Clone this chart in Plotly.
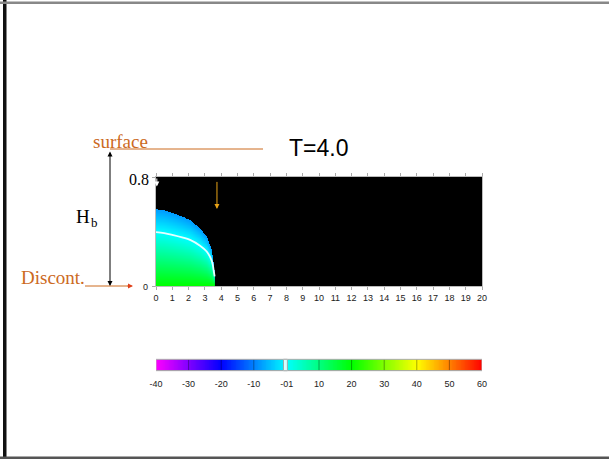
import numpy as np
import plotly.graph_objects as go

W, H = 609, 459

# Bubble outline: height of the top boundary (y) along x
profile_x = [0.0, 0.5, 1.06, 1.6, 2.09, 2.7, 3.11, 3.42, 3.56, 3.6]
profile_h = [0.565, 0.555, 0.534, 0.51, 0.484, 0.423, 0.362, 0.264, 0.14, 0.10]

# Temperature through the bubble, by fraction of local height
level_frac = [0.0, 0.7, 1.0]
level_temp = [20.0, 0.0, -8.0]

# Axis tick labels
x_ticks = list(range(0, 21))
cbar_ticks = [-40, -30, -20, -10, 10, 20, 30, 40, 50, 60]
cbar_zero_vals = [0.1]
cbar_zero_text = ["-01"]
cbar_min, cbar_max = -40, 60

# Arrow markers on the panel
yellow_arrow = dict(x=3.74, top=0.775, tip=0.565)
white_arrow = dict(x=0.05, top=0.8, tip=0.73)

colorscale = [
    [0.0, "#ff00ff"], [0.1, "#8000ff"], [0.2, "#0000ff"], [0.3, "#0080ff"],
    [0.4, "#00ffff"], [0.5, "#00ff80"], [0.6, "#00ff00"], [0.7, "#80ff00"],
    [0.8, "#ffff00"], [0.9, "#ff8000"], [1.0, "#ff0000"],
]

# Field inside the bubble
xs = np.arange(0.0, profile_x[-1] + 1e-9, 0.01)
ys = np.arange(0.0, 0.8, 0.002)
X, Y = np.meshgrid(xs, ys)
h = np.interp(xs, profile_x, profile_h)[None, :]
frac = Y / h
T = np.interp(frac, level_frac, level_temp)
T = np.where(Y <= h, T, np.nan)

zero_frac = float(np.interp(0.0, level_temp[::-1], level_frac[::-1]))
contour_x = np.array(profile_x)
contour_y = zero_frac * np.array(profile_h)


def px(x):
    return x / W


def py(y):
    return 1 - y / H


fig = go.Figure()
fig.add_trace(go.Heatmap(
    x=xs, y=ys, z=T, colorscale=colorscale, zmin=cbar_min, zmax=cbar_max,
    showscale=False, hoverinfo="skip", xaxis="x", yaxis="y",
))
fig.add_trace(go.Scatter(
    x=contour_x, y=contour_y, mode="lines",
    line=dict(color="rgba(255,255,255,0.9)", width=1.8, shape="spline"),
    hoverinfo="skip", xaxis="x", yaxis="y",
))

# Colour bar as its own strip
cb_x = np.linspace(cbar_min, cbar_max, 401)
fig.add_trace(go.Heatmap(
    x=cb_x, y=[0], z=[cb_x], colorscale=colorscale, zmin=cbar_min, zmax=cbar_max,
    showscale=False, hoverinfo="skip", xaxis="x2", yaxis="y2",
))

plot_dom_x = [px(156), px(482)]

fig.update_layout(
    width=W, height=H,
    margin=dict(l=0, r=0, t=0, b=0, pad=0, autoexpand=False),
    paper_bgcolor="white", plot_bgcolor="black", showlegend=False,
    xaxis=dict(
        domain=plot_dom_x, range=[0, 20], tickvals=x_ticks, automargin=False,
        ticks="outside", ticklen=3, tickcolor="#aaaaaa", showline=True,
        linecolor="#bbbbbb", mirror="ticks", showgrid=False, zeroline=False,
        tickangle=0,
        tickfont=dict(family="Liberation Sans", size=9, color="#222222"),
        anchor="y",
    ),
    yaxis=dict(
        domain=[py(286), py(177)], range=[0, 0.8], tickvals=[0, 0.8],
        ticks="outside", ticklen=3, tickcolor="#aaaaaa", showticklabels=False,
        showline=True, linecolor="#bbbbbb", mirror=True, showgrid=False,
        zeroline=False, anchor="x", automargin=False,
    ),
    xaxis2=dict(
        domain=plot_dom_x, range=[cbar_min, cbar_max], automargin=False,
        tickvals=cbar_ticks + cbar_zero_vals,
        ticktext=[str(v) for v in cbar_ticks] + cbar_zero_text,
        ticks="outside", ticklen=4, tickcolor="rgba(0,0,0,0)", tickangle=0,
        showgrid=False, zeroline=False, showline=False,
        tickfont=dict(family="Liberation Sans", size=9, color="#222222"),
        anchor="y2",
    ),
    yaxis2=dict(
        domain=[py(370.7), py(359.3)], range=[-0.5, 0.5], showticklabels=False,
        showgrid=False, zeroline=False, ticks="", anchor="x2", automargin=False,
    ),
)

shapes = []
# Divisions on the colour bar
for v in range(-30, 60, 10):
    if v == 0:
        continue
    shapes.append(dict(type="line", xref="x2", yref="y2 domain", x0=v, x1=v,
                       y0=0, y1=1, line=dict(color="rgba(0,0,0,0.35)", width=1)))
shapes.append(dict(type="rect", xref="x2", yref="y2 domain", x0=-0.9, x1=0.3,
                   y0=0, y1=1, fillcolor="rgba(235,255,255,0.9)",
                   line=dict(color="#9aa", width=1)))
shapes.append(dict(type="rect", xref="x2", yref="y2 domain", x0=cbar_min,
                   x1=cbar_max, y0=0, y1=1, line=dict(color="#bbbbbb", width=1)))

orange = "#cc6a1e"
# Reference lines for surface and discontinuity
shapes.append(dict(type="line", xref="paper", yref="paper", x0=px(110), x1=px(263),
                   y0=py(149), y1=py(149), line=dict(color=orange, width=1)))
shapes.append(dict(type="line", xref="paper", yref="paper", x0=px(85), x1=px(128),
                   y0=py(286), y1=py(286), line=dict(color=orange, width=1)))

# Slide frame
shapes.append(dict(type="rect", xref="paper", yref="paper", x0=px(3), x1=px(6.5),
                   y0=0, y1=1, fillcolor="#111111", line=dict(width=0)))
shapes.append(dict(type="rect", xref="paper", yref="paper", x0=0, x1=1,
                   y0=py(4), y1=py(1.5), fillcolor="#888888", line=dict(width=0)))
shapes.append(dict(type="rect", xref="paper", yref="paper", x0=0, x1=1,
                   y0=py(459), y1=py(456.5), fillcolor="#555555", line=dict(width=0)))
fig.update_layout(shapes=shapes)

serif = "Liberation Serif"
ann = [
    dict(text="T=4.0", x=px(318), y=py(148.5), xref="paper", yref="paper",
         showarrow=False, xanchor="center", yanchor="middle",
         font=dict(family="Liberation Sans", size=23, color="black")),
    dict(text="surface", x=px(120), y=py(141.5), xref="paper", yref="paper",
         showarrow=False, xanchor="center", yanchor="middle",
         font=dict(family=serif, size=19, color=orange)),
    dict(text="Discont.", x=px(53), y=py(277), xref="paper", yref="paper",
         showarrow=False, xanchor="center", yanchor="middle",
         font=dict(family=serif, size=19, color=orange)),
    dict(text="H", x=px(82.5), y=py(216.5), xref="paper", yref="paper",
         showarrow=False, xanchor="center", yanchor="middle",
         font=dict(family=serif, size=19, color="black")),
    dict(text="b", x=px(94), y=py(222.5), xref="paper", yref="paper",
         showarrow=False, xanchor="center", yanchor="middle",
         font=dict(family=serif, size=13, color="black")),
    dict(text="0.8", x=px(139), y=py(180), xref="paper", yref="paper",
         showarrow=False, xanchor="center", yanchor="middle",
         font=dict(family=serif, size=16, color="black")),
    dict(text="0", x=px(145), y=py(286.5), xref="paper", yref="paper",
         showarrow=False, xanchor="center", yanchor="middle",
         font=dict(family="Liberation Sans", size=9, color="#222222")),
    # Layer thickness double arrow
    dict(text="", x=px(110), y=py(286), xref="paper", yref="paper",
         ax=0, ay=-136, showarrow=True, arrowhead=2, arrowside="end+start",
         arrowsize=1, arrowwidth=1, arrowcolor="black", standoff=0, startstandoff=0),
    # Arrowhead at the discontinuity line
    dict(text="", x=px(133), y=py(286), xref="paper", yref="paper",
         ax=-7, ay=0, showarrow=True, arrowhead=2, arrowsize=1, arrowwidth=1,
         arrowcolor="#e0401a", standoff=0),
    # Markers on the panel
    dict(text="", x=yellow_arrow["x"], y=yellow_arrow["tip"], xref="x", yref="y",
         ax=yellow_arrow["x"], ay=yellow_arrow["top"], axref="x", ayref="y",
         showarrow=True, arrowhead=2, arrowsize=1, arrowwidth=1,
         arrowcolor="#e8a317", standoff=0),
    dict(text="", x=white_arrow["x"], y=white_arrow["tip"], xref="x", yref="y",
         ax=white_arrow["x"], ay=white_arrow["top"], axref="x", ayref="y",
         showarrow=True, arrowhead=2, arrowsize=1, arrowwidth=1,
         arrowcolor="white", standoff=0),
]
fig.update_layout(annotations=ann)

fig.write_html("out.html")
